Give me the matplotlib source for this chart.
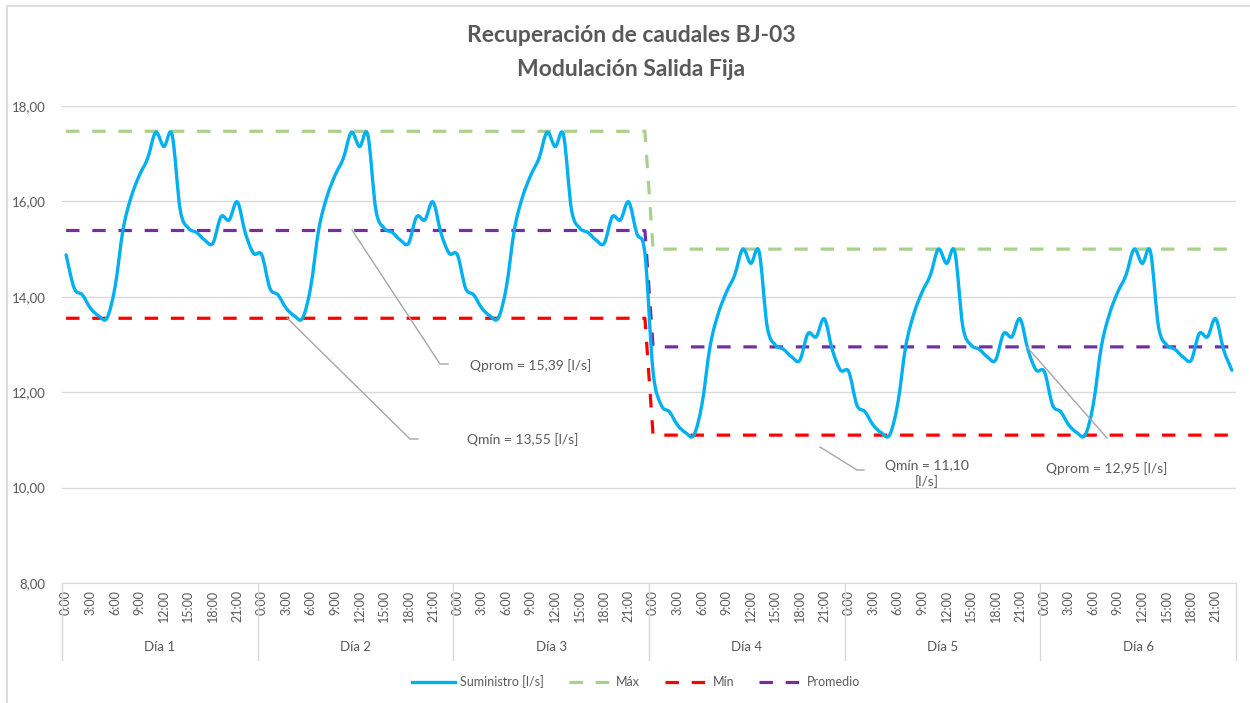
import matplotlib
matplotlib.use("Agg")
import matplotlib.pyplot as plt
import matplotlib.patches as mpatches
from matplotlib.lines import Line2D
from matplotlib.path import Path
import matplotlib.transforms as mtransforms
import numpy as np

plt.rcParams['font.family'] = ['Lato', 'DejaVu Sans']

# hourly supply, same daily profile on days 1-3 and on days 4-6
dias = ["Día 1", "Día 2", "Día 3", "Día 4", "Día 5", "Día 6"]
horas = [f"{h}:00" for h in range(24)]
perfil_dias_1_3 = [14.88, 14.18, 14.04, 13.76, 13.60, 13.55, 14.20, 15.42, 16.10, 16.55,
                   16.90, 17.45, 17.15, 17.40, 15.82, 15.44, 15.35, 15.19, 15.12, 15.68,
                   15.61, 15.99, 15.33, 14.91]
perfil_dias_4_6 = [12.43, 11.73, 11.59, 11.31, 11.15, 11.10, 11.75, 12.97, 13.65, 14.10,
                   14.45, 15.00, 14.70, 14.95, 13.37, 12.99, 12.90, 12.74, 12.67, 13.23,
                   13.16, 13.54, 12.88, 12.46]
suministro = perfil_dias_1_3 * 3 + perfil_dias_4_6 * 3

# reference levels for each block of three days
niveles_max = [17.47, 15.00]
niveles_min = [13.55, 11.10]
niveles_prom = [15.39, 12.95]

GRIS = '#595959'
AZUL = '#00B0F0'
VERDE = '#A9D18E'
ROJO = '#FF0000'
MORADO = '#7030A0'

W, H = 1250, 703
fig = plt.figure(figsize=(12.5, 7.03), dpi=100)
ax = fig.add_axes([62 / W, 1 - 583 / H, (1236 - 62) / W, (583 - 106) / H])

x = np.arange(len(suministro))
y = np.array(suministro, dtype=float)


def smooth_path(xs, ys):
    # Catmull-Rom style bezier, like Excel's smoothed line
    pts = np.column_stack([xs, ys])
    verts = [pts[0]]
    codes = [Path.MOVETO]
    n = len(pts)
    for i in range(n - 1):
        p0 = pts[max(i - 1, 0)]
        p1 = pts[i]
        p2 = pts[i + 1]
        p3 = pts[min(i + 2, n - 1)]
        verts += [p1 + (p2 - p0) / 6, p2 - (p3 - p1) / 6, p2]
        codes += [Path.CURVE4] * 3
    return Path(verts, codes)


ax.add_patch(mpatches.PathPatch(smooth_path(x, y), fill=False, edgecolor=AZUL,
                                lw=2.4, capstyle='round', joinstyle='round', zorder=4))

dash = (0, (4.2, 4.0))
n_bloque = len(perfil_dias_1_3) * 3
ax.plot(x, np.repeat(niveles_max, n_bloque), color=VERDE, lw=2.3, ls=dash, zorder=3)
ax.plot(x, np.repeat(niveles_min, n_bloque), color=ROJO, lw=2.3, ls=dash, zorder=3)
ax.plot(x, np.repeat(niveles_prom, n_bloque), color=MORADO, lw=2.3, ls=dash, zorder=3)

ax.set_xlim(-0.5, len(suministro) - 0.5)
ax.set_ylim(8, 18)
ax.set_yticks(np.arange(8, 18.1, 2))
ax.set_yticklabels([f"{v:.2f}".replace('.', ',') for v in np.arange(8, 18.1, 2)],
                   color=GRIS, fontsize=9.5)
ax.grid(axis='y', color='#D9D9D9', lw=1)
ax.set_axisbelow(True)
for s in ['top', 'right', 'left']:
    ax.spines[s].set_visible(False)
ax.spines['bottom'].set_color('#D9D9D9')
ax.tick_params(axis='y', length=0, pad=12)

ticks = [d * 24 + h for d in range(len(dias)) for h in range(0, 24, 3)]
ax.set_xticks(ticks)
ax.set_xticklabels([horas[t % 24] for t in ticks], rotation=90, fontsize=9, color=GRIS)
ax.tick_params(axis='x', length=0, pad=5)

# multi-level category axis: day separators and day names
trans = mtransforms.blended_transform_factory(ax.transData, ax.transAxes)
sep_bottom = -(660 - 583) / (583 - 106)
for d in range(len(dias) + 1):
    ax.add_line(Line2D([d * 24 - 0.5] * 2, [0, sep_bottom], transform=trans,
                       color='#D9D9D9', lw=1, clip_on=False))
for d, nombre in enumerate(dias):
    ax.text(d * 24 + 11.5, -(647 - 583) / (583 - 106), nombre, transform=trans,
            ha='center', va='center', fontsize=9.5, color=GRIS)


# leader-line labels
def leader(pts_px, texto, tx, ty):
    xs = [p[0] / W for p in pts_px]
    ys = [1 - p[1] / H for p in pts_px]
    fig.add_artist(Line2D(xs, ys, color='#A6A6A6', lw=1, zorder=5))
    fig.text(tx / W, 1 - ty / H, texto, ha='center', va='center', fontsize=10,
             color=GRIS, linespacing=1.25)


leader([(352, 230), (440, 364), (448, 364)], "Qprom = 15,39 [l/s]", 531, 366)
leader([(287, 318), (410, 439), (418, 439)], "Qmín = 13,55 [l/s]", 523, 440)
leader([(820, 447), (857, 470), (864, 470)], "Qmín = 11,10\n[l/s]", 927, 474)
leader([(1027, 347), (1107, 438)], "Qprom = 12,95 [l/s]", 1107, 469)

fig.text(631 / W, 1 - 35 / H, "Recuperación de caudales BJ-03", ha='center', va='center',
         fontsize=16.5, fontweight='bold', color=GRIS)
fig.text(631 / W, 1 - 69 / H, "Modulación Salida Fija", ha='center', va='center',
         fontsize=16.5, fontweight='bold', color=GRIS)

# chart border
fig.add_artist(mpatches.Rectangle((7 / W, -0.1), 1.2, 1 - 6 / H + 0.1, fill=False,
                                  edgecolor='#D9D9D9', lw=1.2))

handles = [Line2D([], [], color=AZUL, lw=2.4),
           Line2D([], [], color=VERDE, lw=2.3, ls=(0, (4.2, 4.0))),
           Line2D([], [], color=ROJO, lw=2.3, ls=(0, (4.2, 4.0))),
           Line2D([], [], color=MORADO, lw=2.3, ls=(0, (4.2, 4.0)))]
leg = fig.legend(handles, ["Suministro [l/s]", "Máx", "Mín", "Promedio"], loc='center',
                 bbox_to_anchor=(636 / W, 1 - 682 / H), ncol=4, frameon=False,
                 fontsize=9, handlelength=3.4, columnspacing=2.0, handletextpad=0.4)
for t in leg.get_texts():
    t.set_color(GRIS)

fig.savefig("out.png", dpi=100)
